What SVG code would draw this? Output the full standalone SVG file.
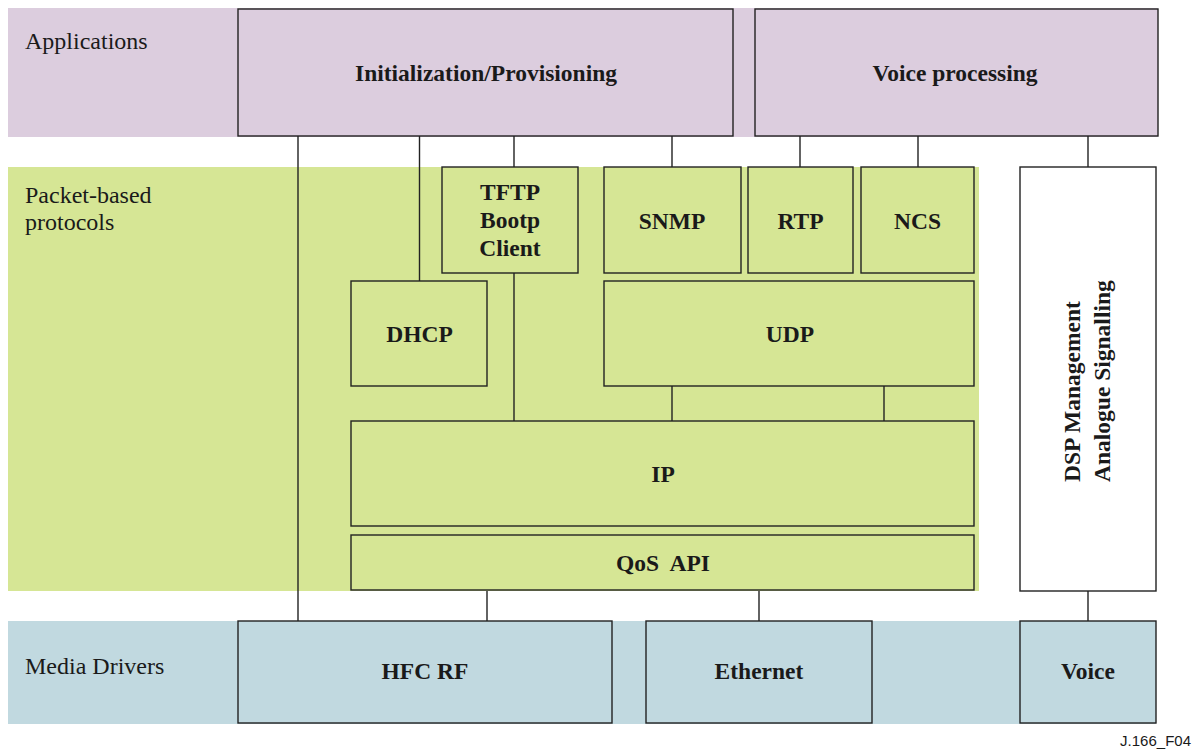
<svg xmlns="http://www.w3.org/2000/svg" width="1195" height="751" viewBox="0 0 1195 751">
<style>
.band-app{fill:#dccdde}
.band-pkt{fill:#d6e695}
.band-med{fill:#c1d9e0}
.box{stroke:#222;stroke-width:1.4}
.app{fill:#dccdde}
.pkt{fill:#d6e695}
.med{fill:#c1d9e0}
.wht{fill:#ffffff}
.lbl{font-family:"Liberation Serif","Times New Roman",serif;font-size:24px;fill:#1a1a1a}
.nl{font-family:"Liberation Serif","Times New Roman",serif;font-size:23.5px;font-weight:bold;fill:#1a1a1a;text-anchor:middle}
.vl{font-family:"Liberation Serif","Times New Roman",serif;font-size:23.5px;font-weight:bold;fill:#1a1a1a}
.conn line{stroke:#222;stroke-width:1.4}
.foot{font-family:"Liberation Sans",Arial,sans-serif;font-size:15px;fill:#1a1a1a;text-anchor:end}
</style>
<rect width="1195" height="751" fill="#ffffff"/>
<g id="bands">
<rect class="band-app" x="8" y="8" width="1150" height="129"/>
<rect class="band-pkt" x="8" y="167" width="971" height="424"/>
<rect class="band-med" x="8" y="621" width="1148" height="103"/>
<text class="lbl" x="25" y="49">Applications</text>
<text class="lbl" x="25" y="203">Packet-based</text>
<text class="lbl" x="25" y="230">protocols</text>
<text class="lbl" x="25" y="674">Media Drivers</text>
</g>
<g class="conn" id="connectors">
<line x1="298" y1="136" x2="298" y2="621"/>
<line x1="419.5" y1="136" x2="419.5" y2="281"/>
<line x1="514" y1="136" x2="514" y2="167"/>
<line x1="514" y1="273" x2="514" y2="421"/>
<line x1="672" y1="136" x2="672" y2="167"/>
<line x1="800" y1="136" x2="800" y2="167"/>
<line x1="918" y1="136" x2="918" y2="167"/>
<line x1="672" y1="386" x2="672" y2="421"/>
<line x1="884" y1="386" x2="884" y2="421"/>
<line x1="1088" y1="136" x2="1088" y2="167"/>
<line x1="1088" y1="591" x2="1088" y2="621"/>
<line x1="487" y1="591" x2="487" y2="621"/>
<line x1="759" y1="591" x2="759" y2="621"/>
</g>
<g id="init"><rect class="box app" x="238" y="9" width="495" height="127"/><text class="nl" x="486" y="81">Initialization/Provisioning</text></g>
<g id="voiceproc"><rect class="box app" x="755" y="9" width="403" height="127"/><text class="nl" x="955" y="81">Voice processing</text></g>
<g id="tftp"><rect class="box pkt" x="442" y="167" width="136" height="106"/><text class="nl" x="510" y="200">TFTP</text><text class="nl" x="510" y="228">Bootp</text><text class="nl" x="510" y="256">Client</text></g>
<g id="snmp"><rect class="box pkt" x="604" y="167" width="137" height="106"/><text class="nl" x="672" y="229">SNMP</text></g>
<g id="rtp"><rect class="box pkt" x="748" y="167" width="105" height="106"/><text class="nl" x="800.5" y="229">RTP</text></g>
<g id="ncs"><rect class="box pkt" x="861" y="167" width="113" height="106"/><text class="nl" x="917.5" y="229">NCS</text></g>
<g id="dhcp"><rect class="box pkt" x="351" y="281" width="136" height="105"/><text class="nl" x="419.5" y="342">DHCP</text></g>
<g id="udp"><rect class="box pkt" x="604" y="281" width="370" height="105"/><text class="nl" x="790" y="342">UDP</text></g>
<g id="ip"><rect class="box pkt" x="351" y="421" width="623" height="105"/><text class="nl" x="663" y="482">IP</text></g>
<g id="qos"><rect class="box pkt" x="351" y="535" width="623" height="55"/><text class="nl" x="663" y="571" xml:space="preserve">QoS  API</text></g>
<g id="dsp"><rect class="box wht" x="1020" y="167" width="136" height="424"/>
<text class="vl" transform="translate(1080,482) rotate(-90)">DSP Management</text>
<text class="vl" transform="translate(1110,482) rotate(-90)">Analogue Signalling</text></g>
<g id="hfc"><rect class="box med" x="238" y="621" width="374" height="102"/><text class="nl" x="425" y="679">HFC RF</text></g>
<g id="ethernet"><rect class="box med" x="646" y="621" width="226" height="102"/><text class="nl" x="759" y="679">Ethernet</text></g>
<g id="voice"><rect class="box med" x="1020" y="621" width="136" height="102"/><text class="nl" x="1088" y="679">Voice</text></g>
<text class="foot" x="1191" y="746">J.166_F04</text>
</svg>
